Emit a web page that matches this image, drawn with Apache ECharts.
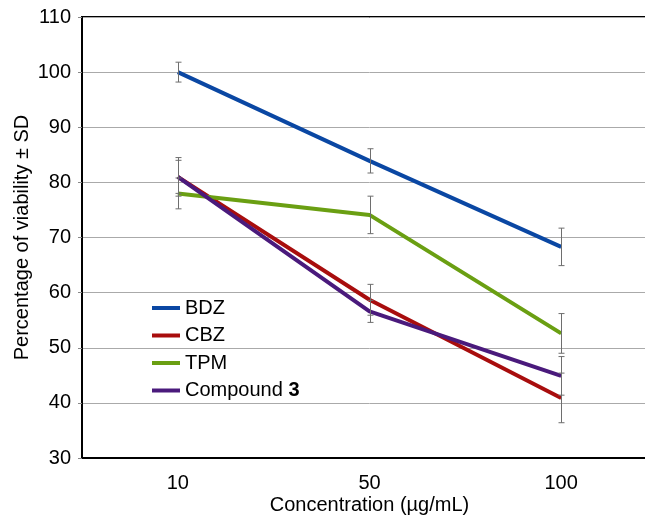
<!DOCTYPE html>
<html><head><meta charset="utf-8">
<script src="https://cdn.jsdelivr.net/npm/echarts@6/dist/echarts.min.js"></script>
<style>html,body{margin:0;padding:0;background:#fff;overflow:hidden;width:645px;height:516px}#c{width:700px;height:516px}</style>
</head><body><div id="c"></div>
<script>
const categories = ['10', '50', '100'];
const bdz = [100, 83.9, 68.3];
const bdzErr = [1.8, 2.2, 3.4];
const cbz = [81, 58.7, 40.9];
const cbzErr = [3.5, 2.8, 4.5];
const tpm = [78, 74.1, 52.6];
const tpmErr = [2.8, 3.4, 3.6];
const cmp3 = [81, 56.6, 44.9];
const cmp3Err = [3, 2, 3.5];

const names = ['BDZ', 'CBZ', 'TPM', 'Compound 3'];
const colors = ['#0a47a3', '#a80d0d', '#6a9f12', '#4a1a7c'];
const values = [bdz, cbz, tpm, cmp3];
const errs = [bdzErr, cbzErr, tpmErr, cmp3Err];
const font = 'Liberation Sans, Arial, Helvetica, sans-serif';

const series = [];
names.forEach((n, i) => {
  series.push({
    name: n, type: 'line', data: values[i], symbol: 'none',
    lineStyle: { color: colors[i], width: 4 }, itemStyle: { color: colors[i] },
    z: 3, animation: false
  });
});
names.forEach((n, i) => {
  series.push({
    type: 'custom', z: 4, animation: false, silent: true,
    data: values[i].map((v, k) => [k, v - errs[i][k], v + errs[i][k]]),
    renderItem: function (params, api) {
      const lo = api.coord([api.value(0), api.value(1)]);
      const hi = api.coord([api.value(0), api.value(2)]);
      const x = Math.round(hi[0]) + 0.5, w = 3;
      const st = { stroke: '#6e6e6e', lineWidth: 1 };
      return { type: 'group', children: [
        { type: 'line', shape: { x1: x, y1: hi[1], x2: x, y2: lo[1] }, style: st },
        { type: 'line', shape: { x1: x - w, y1: hi[1], x2: x + w, y2: hi[1] }, style: st },
        { type: 'line', shape: { x1: x - w, y1: lo[1], x2: x + w, y2: lo[1] }, style: st }
      ]};
    }
  });
});

const chart = echarts.init(document.getElementById('c'));
chart.setOption({
  animation: false,
  textStyle: { fontFamily: font },
  grid: { left: 82, top: 17, right: 43, bottom: 58, containLabel: false, outerBoundsMode: 'none',
    show: true, borderColor: '#000', borderWidth: 2, backgroundColor: 'transparent' },
  legend: {
    data: names, orient: 'vertical', left: 147, top: 293, itemGap: 7.5,
    itemWidth: 28, itemHeight: 4, icon: 'rect',
    textStyle: { fontSize: 20, color: '#000', fontFamily: font,
      rich: { b: { fontWeight: 'bold', fontSize: 20, fontFamily: font, color: '#000' } } },
    formatter: function (n) { return n === 'Compound 3' ? 'Compound {b|3}' : n; }
  },
  xAxis: {
    type: 'category', data: categories, boundaryGap: true,
    axisLine: { lineStyle: { color: '#000', width: 2 } },
    axisTick: { show: false },
    axisLabel: { fontSize: 20, color: '#000', margin: 15, fontFamily: font },
    name: 'Concentration (\u00b5g/mL)', nameLocation: 'middle', nameGap: 37, nameMoveOverlap: false,
    nameTextStyle: { fontSize: 20, color: '#000', fontFamily: font }
  },
  yAxis: {
    type: 'value', min: 30, max: 110, interval: 10,
    axisLine: { show: true, lineStyle: { color: '#000', width: 2 } },
    axisTick: { show: true, length: 4, lineStyle: { color: '#888' } },
    axisLabel: { fontSize: 20, color: '#000', margin: 11, fontFamily: font },
    splitLine: { lineStyle: { color: '#aaaaaa', width: 1 } },
    name: 'Percentage of viability \u00b1 SD', nameLocation: 'middle', nameGap: 50, nameMoveOverlap: false,
    nameTextStyle: { fontSize: 20, color: '#000', fontFamily: font }
  },
  series: series
});
</script></body></html>
